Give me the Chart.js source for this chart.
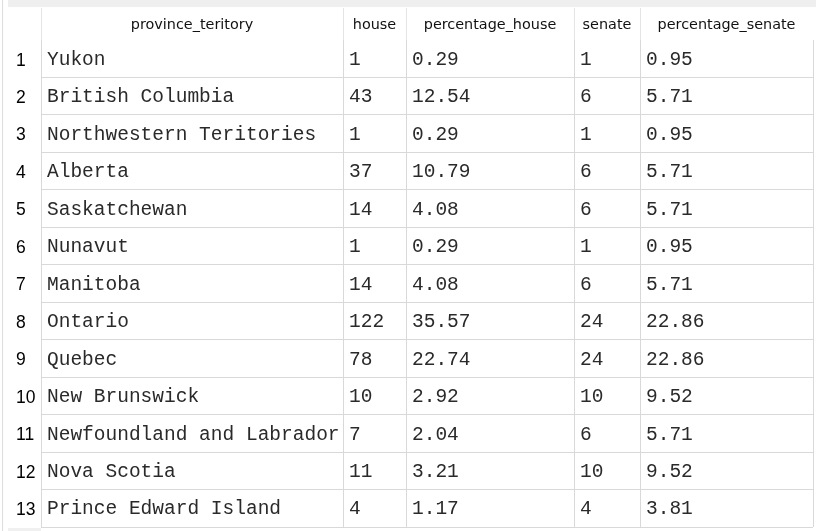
<!DOCTYPE html>
<html>
<head>
<meta charset="utf-8">
<script src="https://cdn.jsdelivr.net/npm/chart.js@4.4.1/dist/chart.umd.min.js"></script>
<style>
  html, body { margin: 0; padding: 0; background: #fff; }
  #wrap { width: 816px; height: 531px; position: relative; }
</style>
</head>
<body>
<div id="wrap"><canvas id="seatTable"></canvas></div>
<script>
// Table data
const columnNames = ['province_teritory', 'house', 'percentage_house', 'senate', 'percentage_senate'];
const provinces = [
    'Yukon', 'British Columbia', 'Northwestern Teritories', 'Alberta', 'Saskatchewan',
    'Nunavut', 'Manitoba', 'Ontario', 'Quebec', 'New Brunswick',
    'Newfoundland and Labrador', 'Nova Scotia', 'Prince Edward Island'
];
const house = [1, 43, 1, 37, 14, 1, 14, 122, 78, 10, 7, 11, 4];
const percentageHouse = [0.29, 12.54, 0.29, 10.79, 4.08, 0.29, 4.08, 35.57, 22.74, 2.92, 2.04, 3.21, 1.17];
const senate = [1, 6, 1, 6, 6, 1, 6, 24, 24, 10, 6, 10, 4];
const percentageSenate = [0.95, 5.71, 0.95, 5.71, 5.71, 0.95, 5.71, 22.86, 22.86, 9.52, 5.71, 9.52, 3.81];
const rowNumbers = provinces.map((p, i) => String(i + 1));

// Layout (column widths in px units of the x scale)
const colWidths = [302, 63, 168, 66, 173];
const colEdges = colWidths.reduce((acc, w) => { acc.push(acc[acc.length - 1] + w); return acc; }, [0]);
const CELL_PAD = 6;
const LINE_COLOR = '#d9d9d9';
const MONO = "'Courier New', 'Liberation Mono', monospace";
const SANS = "Tahoma, 'DejaVu Sans', sans-serif";

const columnValues = [
    provinces,
    house.map(String),
    percentageHouse.map(v => v.toFixed(2)),
    senate.map(String),
    percentageSenate.map(v => v.toFixed(2))
];

// one invisible scatter dataset per column, the plugin writes the text at each point
const datasets = columnValues.map((values, c) => ({
    label: columnNames[c],
    cellLabels: values,
    data: values.map((v, r) => ({ x: colEdges[c] + CELL_PAD, y: r })),
    pointRadius: 0,
    pointHoverRadius: 0
}));

const backgroundPlugin = {
    id: 'tableBackground',
    beforeDraw(chart) {
        const { ctx, width, height, chartArea } = chart;
        ctx.save();
        ctx.fillStyle = '#ffffff';
        ctx.fillRect(0, 0, width, height);
        // top band
        ctx.fillStyle = '#efefef';
        ctx.fillRect(8, 0, width - 8, 7);
        // left frame line
        ctx.fillStyle = '#dddddd';
        ctx.fillRect(2, 0, 1, height);
        // strip under the row-number column
        ctx.fillStyle = '#f0f0f0';
        ctx.fillRect(8, chartArea.bottom + 1, chartArea.left - 8, height - chartArea.bottom);
        ctx.restore();
    }
};

const headerPlugin = {
    id: 'tableHeader',
    afterDraw(chart) {
        const { ctx, chartArea } = chart;
        const xScale = chart.scales.x;
        ctx.save();
        // header separators
        ctx.strokeStyle = '#e4e4e4';
        ctx.lineWidth = 1;
        colEdges.slice(0, -1).forEach(edge => {
            const px = Math.round(xScale.getPixelForValue(edge)) + 0.5;
            ctx.beginPath();
            ctx.moveTo(px, 8);
            ctx.lineTo(px, chartArea.top);
            ctx.stroke();
        });
        // header labels
        ctx.fillStyle = '#111111';
        ctx.font = '14.4px ' + SANS;
        ctx.textAlign = 'center';
        ctx.textBaseline = 'middle';
        columnNames.forEach((name, c) => {
            const mid = xScale.getPixelForValue((colEdges[c] + colEdges[c + 1]) / 2);
            ctx.fillText(name, mid, 25);
        });
        ctx.restore();
    }
};

const cellTextPlugin = {
    id: 'cellText',
    afterDatasetsDraw(chart) {
        const { ctx } = chart;
        ctx.save();
        ctx.fillStyle = '#2a2a2a';
        ctx.font = '19.5px ' + MONO;
        ctx.textAlign = 'left';
        ctx.textBaseline = 'middle';
        chart.data.datasets.forEach((ds, i) => {
            const meta = chart.getDatasetMeta(i);
            meta.data.forEach((pt, j) => {
                ctx.fillText(ds.cellLabels[j], pt.x, pt.y + 1);
            });
        });
        ctx.restore();
    }
};

new Chart(document.getElementById('seatTable').getContext('2d'), {
    type: 'scatter',
    data: { datasets },
    options: {
        responsive: true,
        maintainAspectRatio: false,
        animation: false,
        events: [],
        layout: { padding: { top: 40, right: 3, bottom: 4, left: 16 } },
        plugins: {
            legend: { display: false },
            tooltip: { enabled: false }
        },
        scales: {
            x: {
                type: 'linear',
                position: 'bottom',
                min: colEdges[0],
                max: colEdges[colEdges.length - 1],
                afterBuildTicks: scale => {
                    scale.ticks = colEdges.map(v => ({ value: v }));
                },
                afterFit: scale => {
                    scale.height = 0;
                    scale.paddingLeft = scale.paddingRight = 0;
                },
                ticks: { display: false },
                border: { display: false },
                grid: { color: LINE_COLOR, drawTicks: false }
            },
            y: {
                type: 'category',
                labels: rowNumbers,
                offset: true,
                afterFit: scale => {
                    scale.width = 25;
                    scale.paddingTop = scale.paddingBottom = 0;
                },
                ticks: {
                    crossAlign: 'far',
                    padding: 0,
                    labelOffset: 2,
                    color: '#000000',
                    font: { family: "'Liberation Sans', Arial, sans-serif", size: 17.5 }
                },
                border: { display: false },
                grid: {
                    offset: true,
                    drawTicks: false,
                    color: ctx => (ctx.index === 0 ? 'rgba(0,0,0,0)' : LINE_COLOR)
                }
            }
        }
    },
    plugins: [backgroundPlugin, headerPlugin, cellTextPlugin]
});
</script>
</body>
</html>
